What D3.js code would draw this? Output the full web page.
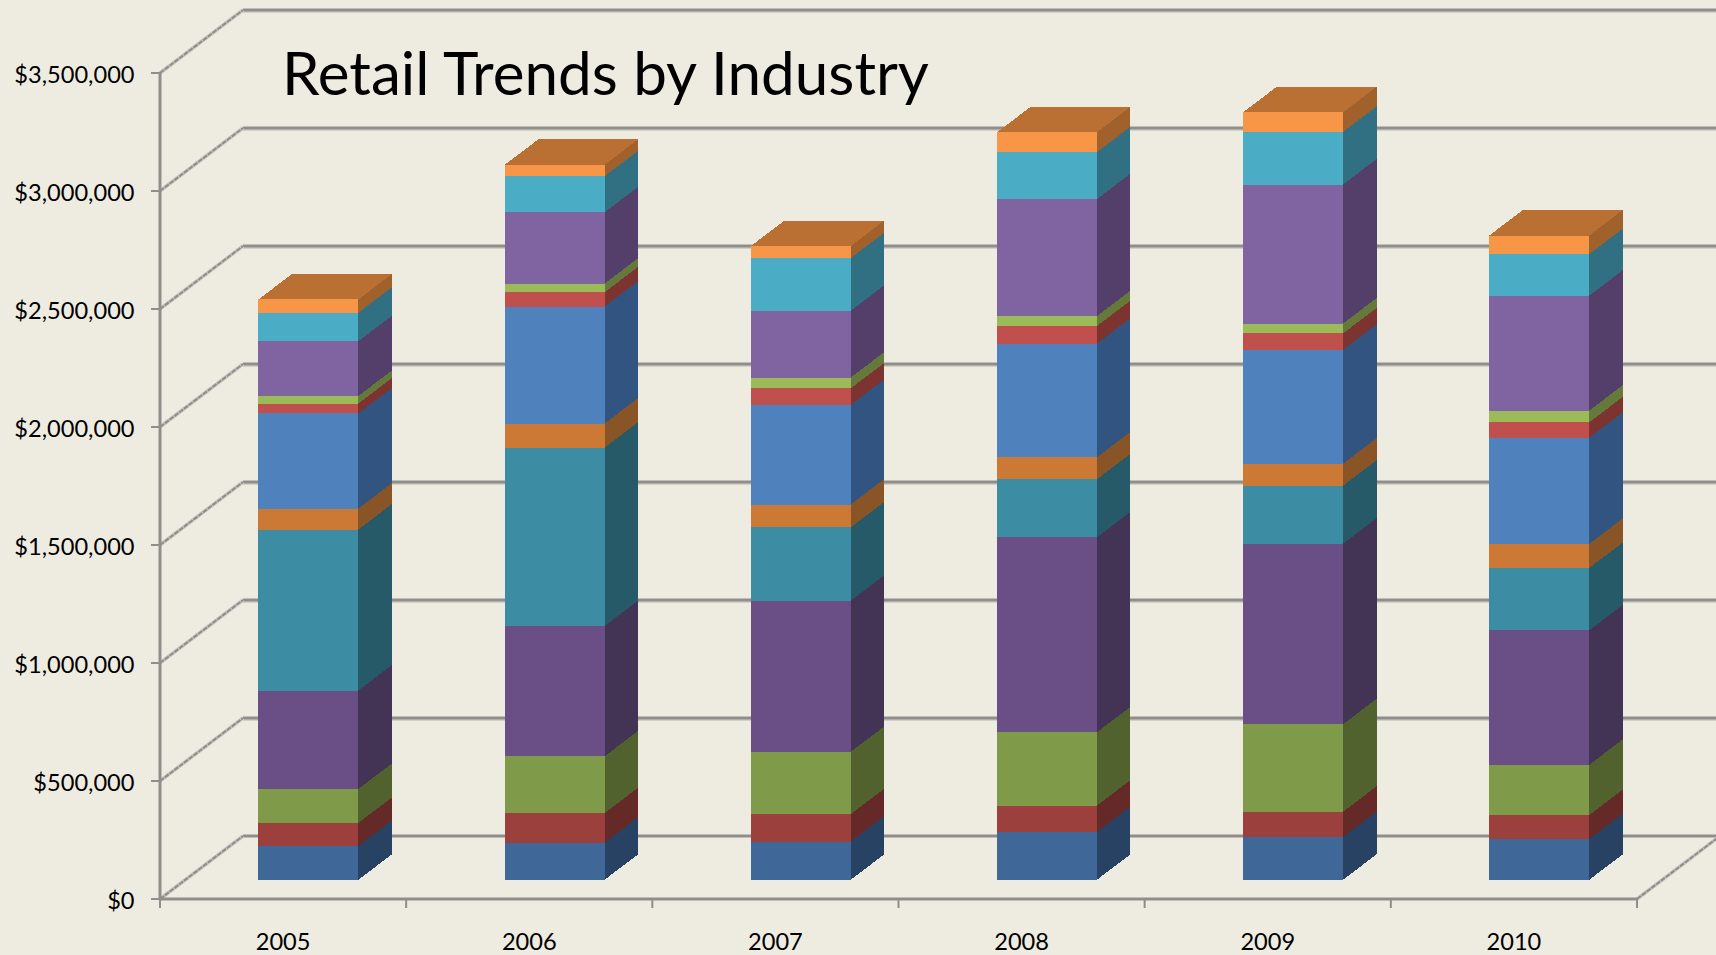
<!DOCTYPE html>
<html>
<head>
<meta charset="utf-8">
<script src="https://cdnjs.cloudflare.com/ajax/libs/d3/7.8.5/d3.min.js"></script>
<style>
html,body{margin:0;padding:0;background:#EEECE1;overflow:hidden}
svg{display:block}
text{font-family:Lato,"Open Sans",sans-serif;fill:#000}
</style>
</head>
<body>
<svg id="chart" width="1716" height="955"></svg>
<script>
// Twelve stacked industry series per year, bottom of the stack first.
const years = ["2005","2006","2007","2008","2009","2010"];
const seriesKeys = ["s1","s2","s3","s4","s5","s6","s7","s8","s9","s10","s11","s12"];
const s1  = [144000,157000,162000,203000,181000,172000];
const s2  = [ 97000,125000,116000,111000,107000,102000];
const s3  = [144000,241000,264000,311000,371000,213000];
const s4  = [417000,552000,640000,826000,765000,570000];
const s5  = [682000,756000,311000,246000,246000,264000];
const s6  = [ 89000,102000, 97000, 93000, 93000,102000];
const s7  = [403000,496000,422000,482000,482000,450000];
const s8  = [ 42000, 60000, 70000, 74000, 70000, 65000];
const s9  = [ 32000, 37000, 46000, 42000, 42000, 50000];
const s10 = [232000,302000,283000,496000,589000,487000];
const s11 = [121000,153000,223000,199000,223000,176000];
const s12 = [ 56000, 48000, 51000, 84000, 83000, 79000];
const yTicks = [0,500000,1000000,1500000,2000000,2500000,3000000,3500000];
const frontColors = ["#3F6797","#9B403D","#7F9A48","#694F86","#3C8DA3","#CB7934",
                     "#4F81BD","#C0504D","#9BBB59","#8064A2","#4BACC6","#F79646"];
const sideColors  = ["#284263","#652A28","#52622F","#433456","#265A69","#8A5526",
                     "#325480","#7D3431","#65793A","#533F6A","#317083","#A0612D"];
const topColor = "#BA7032";
const titleText = "Retail Trends by Industry";

const table = years.map((y,i)=>({year:y,s1:s1[i],s2:s2[i],s3:s3[i],s4:s4[i],s5:s5[i],s6:s6[i],
  s7:s7[i],s8:s8[i],s9:s9[i],s10:s10[i],s11:s11[i],s12:s12[i]}));
const stacked = d3.stack().keys(seriesKeys)(table);

const svg = d3.select("#chart");
const x = d3.scaleBand().domain(years).range([160,1637]).paddingInner(0.594).paddingOuter(0.297);
const y = d3.scaleLinear().domain([0,3500000]).range([899,73]);

// Oblique projection: depth 0 is the front plane, depth 1 the back wall.
const depthX = 83, depthY = -63;
const depthFront = 0.305, depthBack = 0.71;
const project = (px,py,d)=>[px+depthX*d, py+depthY*d];
const poly = pts=>pts.map(p=>p.join(",")).join(" ");

const gridColor = "#8F8E8A", haloColor = "#C9C8C0";
const right = x.range()[1], left = x.range()[0];

// Walls: gridlines along the back and receding side wall
const grid = svg.append("g");
yTicks.forEach(t=>{
  const py = y(t);
  const a = project(left,py,0), b = project(left,py,1), c = [1716+4,b[1]];
  if (t>0) grid.append("line").attr("x1",b[0]).attr("y1",b[1]+2).attr("x2",c[0]).attr("y2",c[1]+2)
      .attr("stroke",haloColor).attr("stroke-width",1.5);
  grid.append("line").attr("x1",b[0]).attr("y1",b[1]).attr("x2",c[0]).attr("y2",c[1])
      .attr("stroke",gridColor).attr("stroke-width",3);
  grid.append("line").attr("x1",a[0]).attr("y1",a[1]).attr("x2",b[0]).attr("y2",b[1])
      .attr("stroke",haloColor).attr("stroke-width",3.6);
  grid.append("line").attr("x1",a[0]).attr("y1",a[1]).attr("x2",b[0]).attr("y2",b[1])
      .attr("stroke",gridColor).attr("stroke-width",2).attr("stroke-dasharray","5 1");
});
// Floor edge on the right-hand side
const fr0 = project(right,y(0),0), fr1 = project(right,y(0),1);
grid.append("line").attr("x1",fr0[0]).attr("y1",fr0[1]).attr("x2",fr1[0]).attr("y2",fr1[1])
    .attr("stroke",haloColor).attr("stroke-width",3.6);
grid.append("line").attr("x1",fr0[0]).attr("y1",fr0[1]).attr("x2",fr1[0]).attr("y2",fr1[1])
    .attr("stroke",gridColor).attr("stroke-width",2).attr("stroke-dasharray","5 1");

// Value axis and category axis with outward ticks
const axisG = svg.append("g");
axisG.append("line").attr("x1",left).attr("x2",left).attr("y1",y(3500000)).attr("y2",y(0))
     .attr("stroke",gridColor).attr("stroke-width",3);
axisG.append("line").attr("x1",left).attr("x2",right).attr("y1",y(0)).attr("y2",y(0))
     .attr("stroke",gridColor).attr("stroke-width",3);
const fmt = d3.format("$,");
yTicks.forEach(t=>{
  axisG.append("line").attr("x1",left-9).attr("x2",left).attr("y1",y(t)).attr("y2",y(t))
       .attr("stroke",gridColor).attr("stroke-width",2);
  axisG.append("text").attr("x",134.5).attr("y",y(t)+9.5).attr("text-anchor","end")
       .attr("font-size",23.6).text(fmt(t));
});
const step = x.step();
d3.range(years.length+1).forEach(i=>{
  const px = left+i*step;
  axisG.append("line").attr("x1",px).attr("x2",px).attr("y1",y(0)).attr("y2",y(0)+9)
       .attr("stroke",gridColor).attr("stroke-width",2);
});
years.forEach(yr=>{
  axisG.append("text").attr("x",x(yr)+x.bandwidth()/2).attr("y",950).attr("text-anchor","middle")
       .attr("font-size",23.6).text(yr);
});

// Stacked columns: side faces, front faces, then the lid on the last series
const bars = svg.append("g");
stacked.forEach((layer,li)=>{
  const g = bars.append("g");
  layer.forEach(d=>{
    const yr = d.data.year, x0 = x(yr), x1 = x0+x.bandwidth();
    const yb = y(d[0]), yt = y(d[1]);
    g.append("polygon").attr("shape-rendering","crispEdges")
      .attr("fill",sideColors[li])
      .attr("points",poly([project(x1,yb,depthFront),project(x1,yb,depthBack),
                           project(x1,yt,depthBack),project(x1,yt,depthFront)]));
    g.append("polygon").attr("shape-rendering","crispEdges")
      .attr("fill",frontColors[li])
      .attr("points",poly([project(x0,yb,depthFront),project(x1,yb,depthFront),
                           project(x1,yt,depthFront),project(x0,yt,depthFront)]));
    if (li===stacked.length-1) {
      g.append("polygon").attr("shape-rendering","crispEdges")
        .attr("fill",topColor)
        .attr("points",poly([project(x0,yt,depthFront),project(x1,yt,depthFront),
                             project(x1,yt,depthBack),project(x0,yt,depthBack)]));
    }
  });
});

svg.append("text").attr("x",282).attr("y",95).attr("font-size",60.2).text(titleText);
</script>
</body>
</html>
